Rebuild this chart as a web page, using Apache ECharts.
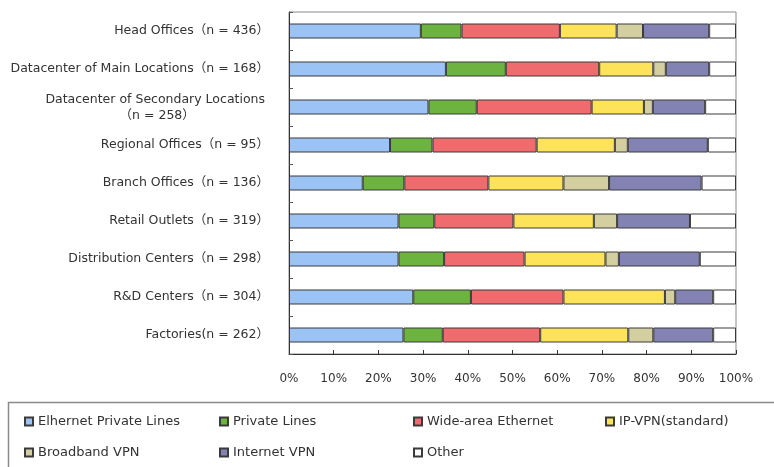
<!DOCTYPE html>
<html>
<head>
    <meta charset="utf-8">
    <script src="https://cdn.jsdelivr.net/npm/echarts@6/dist/echarts.min.js"></script>
    <style>
        body { margin: 0; background: #fff; }
    </style>
</head>
<body>
<div id="main" style="width: 774px;height:467px;"></div>
<script type="text/javascript">
    // categories, top to bottom
    var categories = [
        'Head Offices（n = 436）',
        'Datacenter of Main Locations（n = 168）',
        'Datacenter of Secondary Locations\n（n = 258）',
        'Regional Offices（n = 95）',
        'Branch Offices（n = 136）',
        'Retail Outlets（n = 319）',
        'Distribution Centers（n = 298）',
        'R&D Centers（n = 304）',
        'Factories(n = 262）'
    ];
    var legendNames = ['Elhernet Private Lines', 'Private Lines', 'Wide-area Ethernet', 'IP-VPN(standard)',
        'Broadband VPN', 'Internet VPN', 'Other'];
    var colors = ['#9cc3f5', '#6cb33f', '#f06b6d', '#fde35a', '#d4cfa0', '#8383b3', '#ffffff'];

    // percentages per series, same order as categories
    var ethernetPrivate = [29.5, 35.1, 31.2, 22.6, 16.5, 24.5, 24.5, 27.8, 25.6];
    var privateLines    = [9.1, 13.4, 10.8, 9.5, 9.3, 8.0, 10.2, 12.9, 8.8];
    var wideArea        = [22.0, 20.9, 25.7, 23.3, 18.8, 17.7, 18.0, 20.7, 21.8];
    var ipVpn           = [12.7, 12.1, 11.7, 17.5, 16.8, 18.0, 18.1, 22.7, 19.7];
    var broadbandVpn    = [5.9, 2.8, 2.0, 2.9, 10.2, 5.2, 3.0, 2.3, 5.6];
    var internetVpn     = [14.8, 9.7, 11.7, 17.9, 20.7, 16.3, 18.1, 8.5, 13.4];
    var other           = [6.0, 6.0, 6.9, 6.3, 7.7, 10.3, 8.1, 5.1, 5.1];
    var values = [ethernetPrivate, privateLines, wideArea, ipVpn, broadbandVpn, internetVpn, other];

    var xTicks = [0, 10, 20, 30, 40, 50, 60, 70, 80, 90, 100];

    var chart = echarts.init(document.getElementById('main'));

    var series = [];
    for (var i = 0; i < legendNames.length; i++) {
        series.push({
            name: legendNames[i],
            type: 'bar',
            stack: 'all',
            barWidth: 15,
            data: values[i],
            itemStyle: {color: colors[i], borderColor: '#3a3a3a', borderWidth: 1},
            emphasis: {disabled: true}
        });
    }

    var font = 'DejaVu Sans, Noto Sans CJK JP';

    // legend laid out in 4 columns, 2 rows
    var legendCols = [[0, 4], [1, 5], [2, 6], [3]];
    var legendLeft = [24, 219, 413, 605];
    var legends = [];
    for (var c = 0; c < legendCols.length; c++) {
        legends.push({
            orient: 'vertical',
            left: legendLeft[c],
            top: 415,
            padding: 0,
            itemGap: 18,
            itemWidth: 8,
            itemHeight: 8,
            icon: 'rect',
            selectedMode: false,
            textStyle: {color: '#333', fontSize: 13, fontFamily: font},
            data: legendCols[c].map(function (k) { return legendNames[k]; })
        });
    }

    chart.setOption({
        animation: false,
        backgroundColor: '#fff',
        grid: {
            left: 289, right: 38, top: 12, bottom: 113,
            show: true, borderColor: '#8a8a8a', borderWidth: 1
        },
        legend: legends,
        graphic: [{
            type: 'rect',
            shape: {x: 8.5, y: 402.5, width: 800, height: 100},
            style: {fill: 'none', stroke: '#8a8a8a', lineWidth: 1.5}
        }],
        xAxis: {
            type: 'value',
            min: xTicks[0],
            max: xTicks[xTicks.length - 1],
            interval: xTicks[1] - xTicks[0],
            axisLine: {show: true, lineStyle: {color: '#333'}},
            axisTick: {show: true, inside: true, length: 4, lineStyle: {color: '#333'}},
            splitLine: {show: false},
            axisLabel: {margin: 19, formatter: '{value}%', color: '#333', fontSize: 12, fontFamily: font}
        },
        yAxis: {
            type: 'category',
            inverse: true,
            data: categories,
            axisLine: {show: true, lineStyle: {color: '#333'}},
            axisTick: {show: true, inside: true, length: 4, lineStyle: {color: '#555'}},
            axisLabel: {
                margin: 20,
                color: '#333', fontSize: 12.5,
                fontFamily: font,
                formatter: function (v) {
                    var parts = v.split('\n');
                    if (parts.length < 2) return v;
                    return '{a|' + parts[0] + '}\n{b|' + parts[1] + '}';
                },
                rich: {
                    a: {color: '#333', fontSize: 12.5, fontFamily: font, lineHeight: 17, padding: [3, 4, 0, 0]},
                    b: {color: '#333', fontSize: 12.5, fontFamily: font, lineHeight: 17, align: 'center'}
                }
            }
        },
        series: series
    });
</script>
</body>
</html>
